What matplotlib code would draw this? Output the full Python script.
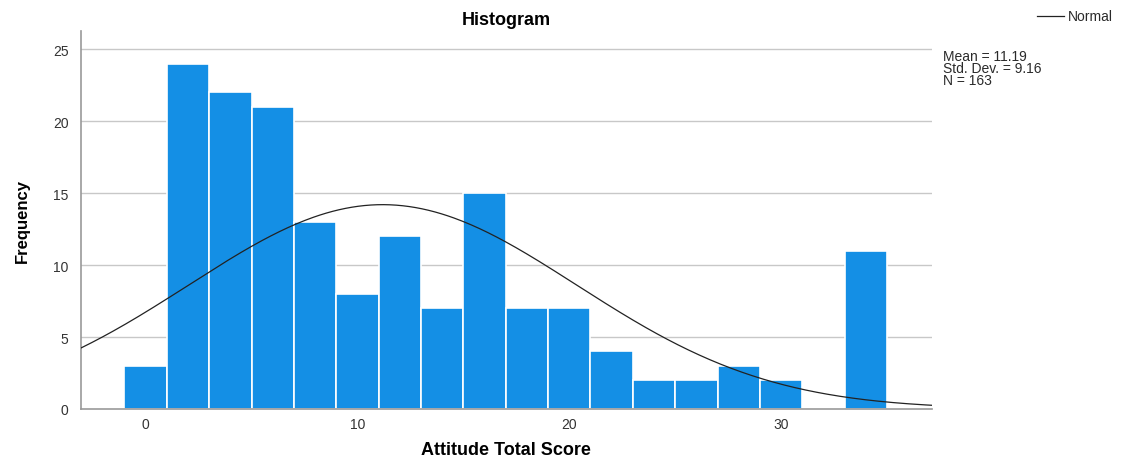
import numpy as np
import matplotlib
matplotlib.use("Agg")
import matplotlib.pyplot as plt
from matplotlib import font_manager

bin_centers = [0, 2, 4, 6, 8, 10, 12, 14, 16, 18, 20, 22, 24, 26, 28, 30, 32, 34]
frequencies = [3, 24, 22, 21, 13, 8, 12, 7, 15, 7, 7, 4, 2, 2, 3, 2, 0, 11]
bin_width = 2
mean_val = 11.19
std_val = 9.16
n_val = 163
x_ticks = [0, 10, 20, 30]
y_ticks = [0, 5, 10, 15, 20, 25]

names = {f.name for f in font_manager.fontManager.ttflist}
narrow = "Liberation Sans Narrow" if "Liberation Sans Narrow" in names else None
plt.rcParams['font.family'] = ['Liberation Sans', 'DejaVu Sans']

fig = plt.figure(figsize=(11.25, 4.6), dpi=100)
ax = fig.add_axes([0.072, 0.1087, 0.756, 0.8213])

ax.set_xlim(-3.05, 37.1)
ax.set_ylim(0, 26.25)

for y in y_ticks[1:]:
    ax.axhline(y, color='#c8c8c8', lw=1.0, zorder=0)

ax.bar(bin_centers, frequencies, width=bin_width, color='#148fe5',
       edgecolor='white', linewidth=1.2, zorder=2)

xs = np.linspace(-3.05, 37.1, 400)
pdf = n_val * bin_width / (std_val * np.sqrt(2 * np.pi)) * np.exp(-0.5 * ((xs - mean_val) / std_val) ** 2)
ax.plot(xs, pdf, color='#222222', lw=0.9, zorder=3)

for s in ['top', 'right']:
    ax.spines[s].set_visible(False)
for s in ['left', 'bottom']:
    ax.spines[s].set_color('#999999')
    ax.spines[s].set_linewidth(1.2)

ax.set_xticks(x_ticks)
ax.set_yticks(y_ticks)
ax.tick_params(axis='x', length=0, labelsize=10, colors='#333333', pad=6)
ax.tick_params(axis='y', length=0, labelsize=10, colors='#333333', pad=9)

ax.set_title('Histogram', fontsize=13, fontweight='bold', pad=5)
ax.set_xlabel('Attitude Total Score', fontsize=13, fontweight='bold', va='center')
ax.xaxis.set_label_coords(0.5, -0.106)
if narrow:
    ax.set_ylabel('Frequency', fontsize=14, family=[narrow, 'DejaVu Sans'],
                  fontweight='bold', va='center')
else:
    ax.set_ylabel('Frequency', fontsize=12, fontweight='bold', va='center')
ax.yaxis.set_label_coords(-0.069, 0.5)

fig.text(0.838, 0.891, 'Mean = 11.19\nStd. Dev. = 9.16\nN = 163', fontsize=10,
         va='top', ha='left', linespacing=0.82, color='#2a2a2a')
fig.lines.append(plt.Line2D([0.922, 0.946], [0.963, 0.963], transform=fig.transFigure,
                            color='#222222', lw=0.9))
fig.text(0.949, 0.963, 'Normal', fontsize=10, va='center', ha='left', color='#2a2a2a')

fig.savefig('out.png', dpi=100, facecolor='white')
